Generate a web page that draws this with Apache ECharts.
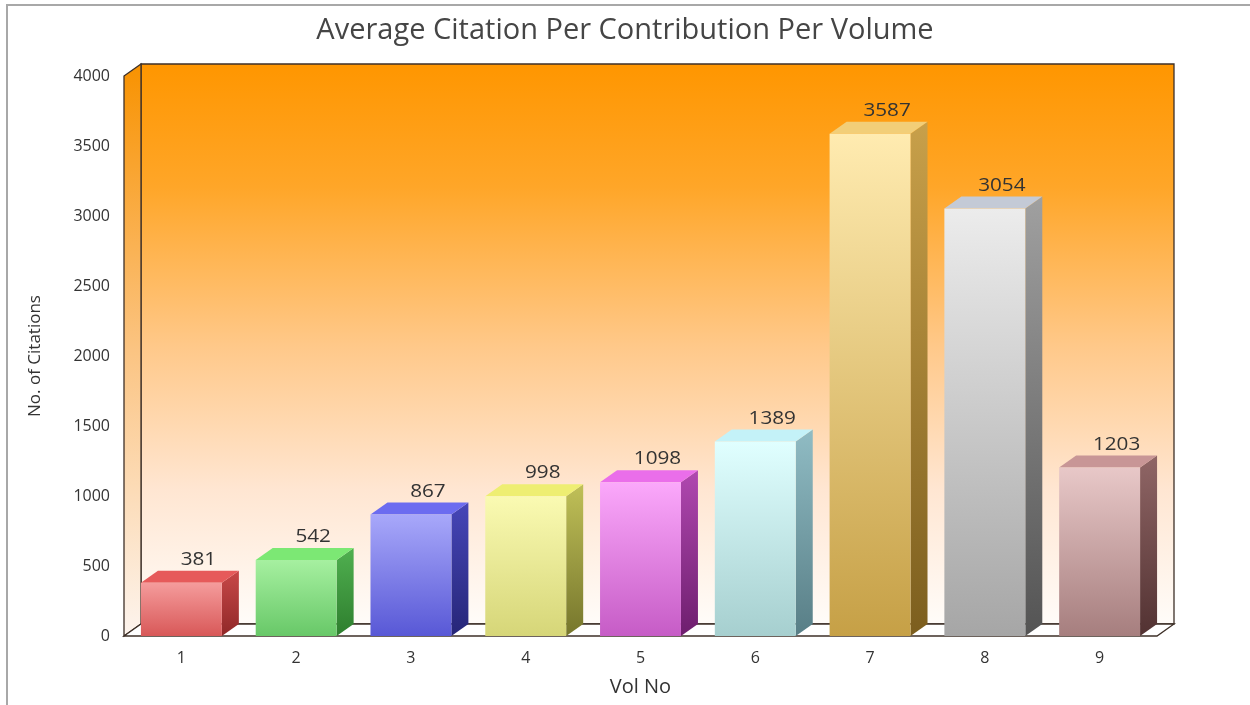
<!DOCTYPE html>
<html>
<head>
<meta charset="utf-8">
<title>Average Citation Per Contribution Per Volume</title>
<script src="https://cdn.jsdelivr.net/npm/echarts@6/dist/echarts.min.js"></script>
<style>
  html, body { margin: 0; padding: 0; background: #ffffff; }
  #chart { width: 1250px; height: 705px; }
</style>
</head>
<body>
<div id="chart"></div>
<script>
// Volumes and the average citation count of each
const volumes = ['1', '2', '3', '4', '5', '6', '7', '8', '9'];
const citations = [381, 542, 867, 998, 1098, 1389, 3587, 3054, 1203];

// Value axis ticks
const yTicks = [0, 500, 1000, 1500, 2000, 2500, 3000, 3500, 4000];

// Per-bar shading: front face (top -> bottom), side face (top -> bottom), top face
const frontTop    = ['#F59C9C', '#A6F0A0', '#A8A8FA', '#FAFAB2', '#FBA8FB', '#E0FFFF', '#FFEBB0', '#ECECEC', '#E8C8C8'];
const frontBottom = ['#D85858', '#68C868', '#5858D6', '#D6D678', '#C65CC6', '#A6CFCF', '#C6A046', '#A6A6A6', '#A67E7E'];
const sideTop     = ['#C84848', '#50B050', '#4646B8', '#C0C058', '#B048B0', '#90BCC4', '#C8A04A', '#A0A0A0', '#906666'];
const sideBottom  = ['#902828', '#2E7E2E', '#262678', '#76762C', '#6E1E6E', '#587E86', '#7C5E1E', '#545454', '#523232'];
const topFace     = ['#E65A5A', '#7CE874', '#6C6CF0', '#EEEE72', '#EA6EEA', '#C4F2F8', '#F2CE78', '#C4CAD6', '#C89696'];

// 3D depth of bars and chart walls
const DX = 17, DY = -12;
const BAR_RATIO = 0.705;
const EDGE = '#3e3028';

function vgrad(a, b) {
  return new echarts.graphic.LinearGradient(0, 0, 0, 1, [
    { offset: 0, color: a }, { offset: 1, color: b }
  ]);
}

// Back wall, left wall and floor of the 3D canvas, built from the grid rectangle
function renderFrame(params, api) {
  const cs = params.coordSys;
  const x0 = cs.x, y0 = cs.y, x1 = cs.x + cs.width, y1 = cs.y + cs.height;
  const wallGrad = new echarts.graphic.LinearGradient(0, 0, 0, 1, [
    { offset: 0, color: '#FF9600' },
    { offset: 0.22, color: '#FFA628' },
    { offset: 0.5, color: '#FFC888' },
    { offset: 0.76, color: '#FFE6D2' },
    { offset: 1, color: '#FFFCF9' }
  ]);
  const sideGrad = new echarts.graphic.LinearGradient(0, 0, 0, 1, [
    { offset: 0, color: '#F89200' },
    { offset: 0.5, color: '#FBC482' },
    { offset: 1, color: '#FDF4EE' }
  ]);
  return {
    type: 'group',
    children: [
      {
        type: 'polygon',
        shape: { points: [[x0 + DX, y0 + DY], [x1 + DX, y0 + DY], [x1 + DX, y1 + DY], [x0 + DX, y1 + DY]] },
        style: { fill: wallGrad, stroke: EDGE, lineWidth: 1.3 }
      },
      {
        type: 'polygon',
        shape: { points: [[x0, y0], [x0 + DX, y0 + DY], [x0 + DX, y1 + DY], [x0, y1]] },
        style: { fill: sideGrad, stroke: EDGE, lineWidth: 1.3 }
      },
      {
        type: 'polygon',
        shape: { points: [[x0, y1], [x0 + DX, y1 + DY], [x1 + DX, y1 + DY], [x1, y1]] },
        style: { fill: '#FFFFFF', stroke: EDGE, lineWidth: 1.3 }
      }
    ]
  };
}

// One extruded bar with its value label
function renderBar(params, api) {
  const i = params.dataIndex;
  const v = api.value(1);
  const topPt = api.coord([api.value(0), v]);
  const basePt = api.coord([api.value(0), 0]);
  const band = api.size([1, 0])[0];
  const w = band * BAR_RATIO;
  const xl = topPt[0] - w / 2, xr = topPt[0] + w / 2;
  const yt = topPt[1], yb = basePt[1];
  return {
    type: 'group',
    children: [
      {
        type: 'polygon',
        shape: { points: [[xr, yt], [xr + DX, yt + DY], [xr + DX, yb + DY], [xr, yb]] },
        style: { fill: vgrad(sideTop[i], sideBottom[i]) }
      },
      {
        type: 'polygon',
        shape: { points: [[xl, yt], [xl + DX, yt + DY], [xr + DX, yt + DY], [xr, yt]] },
        style: { fill: topFace[i] }
      },
      {
        type: 'rect',
        shape: { x: xl, y: yt, width: w, height: yb - yt },
        style: { fill: vgrad(frontTop[i], frontBottom[i]) }
      },
      {
        type: 'text',
        x: topPt[0] + DX,
        y: yt + DY - 11,
        scaleX: 1.15,
        style: {
          text: String(v),
          fill: '#333333',
          fontSize: 18,
          fontFamily: 'Open Sans',
          align: 'center',
          verticalAlign: 'middle'
        }
      }
    ]
  };
}

const chart = echarts.init(document.getElementById('chart'));

chart.setOption({
  backgroundColor: '#ffffff',
  animation: false,
  title: {
    text: 'Average Citation Per Contribution Per Volume',
    left: 'center',
    top: 11,
    textStyle: { fontFamily: 'Open Sans', fontSize: 29, fontWeight: 'normal', color: '#454545' }
  },
  graphic: [
    {
      type: 'rect',
      silent: true,
      shape: { x: 7, y: 5, width: 1300, height: 800 },
      style: { fill: 'none', stroke: '#a8a8a8', lineWidth: 2 },
      z: -10
    }
  ],
  grid: { left: 124, right: 93, top: 76, bottom: 69 },
  xAxis: {
    type: 'category',
    data: volumes,
    name: 'Vol No',
    nameLocation: 'middle',
    nameGap: 41,
    nameTextStyle: { fontFamily: 'Open Sans', fontSize: 20, color: '#333333' },
    axisLine: { show: false },
    axisTick: { show: false },
    splitLine: { show: false },
    axisLabel: { margin: 14, fontFamily: 'Open Sans', fontSize: 16, color: '#333333' }
  },
  yAxis: {
    type: 'value',
    min: yTicks[0],
    max: yTicks[yTicks.length - 1],
    interval: yTicks[1] - yTicks[0],
    name: 'No. of Citations',
    nameLocation: 'middle',
    nameRotate: 90,
    nameGap: 80,
    nameTextStyle: { fontFamily: 'Open Sans', fontSize: 17, color: '#333333' },
    axisLine: { show: false },
    axisTick: { show: false },
    splitLine: { show: false },
    axisLabel: {
      margin: 14,
      fontFamily: 'Open Sans',
      fontSize: 16,
      color: '#333333',
      formatter: (val) => String(val)
    }
  },
  series: [
    {
      type: 'custom',
      name: 'frame',
      silent: true,
      z: 1,
      renderItem: renderFrame,
      data: [[0, 0]],
      encode: { x: 0, y: 1 }
    },
    {
      type: 'custom',
      name: 'Citations',
      z: 2,
      renderItem: renderBar,
      data: citations.map((c, i) => [i, c]),
      encode: { x: 0, y: 1 }
    }
  ]
});
</script>
</body>
</html>
